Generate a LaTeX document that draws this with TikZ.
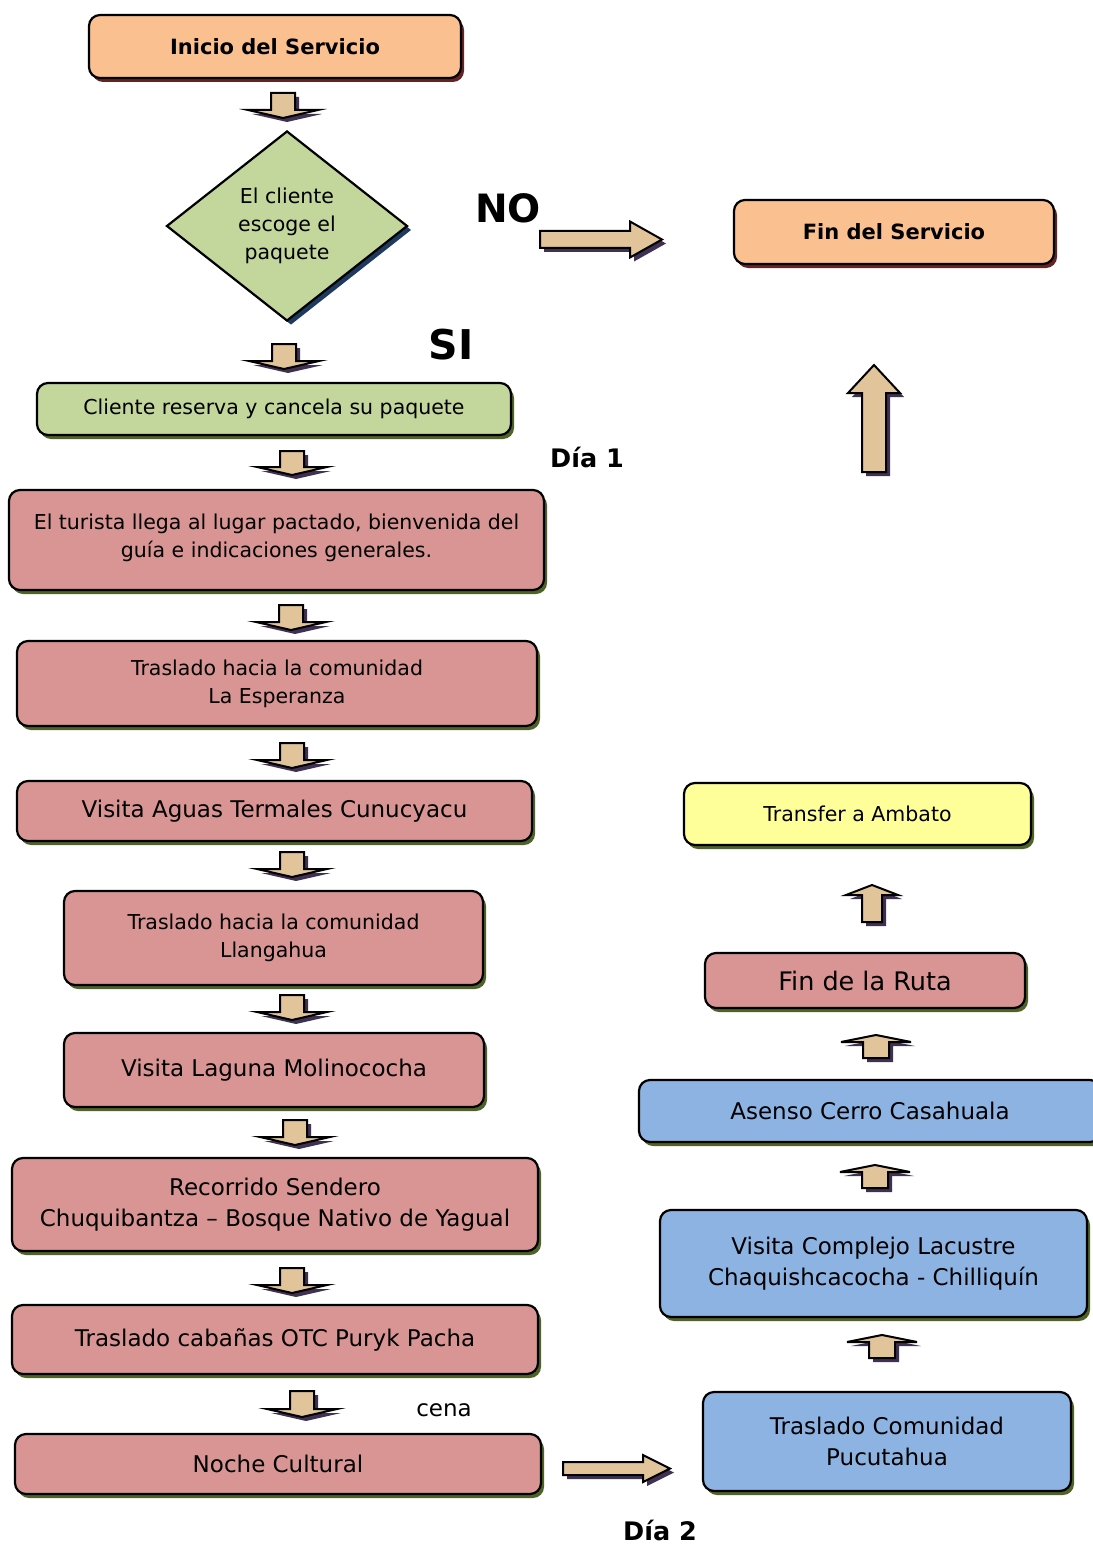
\documentclass[tikz,border=0pt]{standalone}
\usepackage{fontspec}
\setmainfont{DejaVu Sans}
\usetikzlibrary{shapes.geometric,shadows}

\definecolor{orangebox}{HTML}{FAC090}
\definecolor{greenbox}{HTML}{C3D69B}
\definecolor{pinkbox}{HTML}{D99594}
\definecolor{bluebox}{HTML}{8DB3E2}
\definecolor{yellowbox}{HTML}{FFFF99}
\definecolor{tanfill}{HTML}{E2C49A}
\definecolor{maroonshadow}{HTML}{632523}
\definecolor{oliveshadow}{HTML}{4F6228}
\definecolor{navyshadow}{HTML}{1F3A5F}
\definecolor{purpleshadow}{HTML}{3F3151}

\tikzset{
  smalltext/.style={font=\fontsize{20.5}{28}\selectfont},
  bigtext/.style={font=\fontsize{23}{31}\selectfont},
  box/.style={draw, line width=2.2pt, rounded corners=11pt, align=center, inner sep=0pt, smalltext},
  shadowmaroon/.style={drop shadow={shadow xshift=3pt, shadow yshift=-4pt, fill=maroonshadow, opacity=1}},
  shadowolive/.style={drop shadow={shadow xshift=3pt, shadow yshift=-4pt, fill=oliveshadow, opacity=1}},
  startbox/.style={box, fill=orangebox, shadowmaroon, font=\fontsize{21}{28}\selectfont\bfseries},
  greenstep/.style={box, fill=greenbox, shadowolive},
  pinkstep/.style={box, fill=pinkbox, shadowolive},
  bluestep/.style={box, fill=bluebox, shadowolive, bigtext},
  blkarrow/.style={draw, line width=2pt, fill=tanfill,
    drop shadow={shadow xshift=4pt, shadow yshift=-4pt, fill=purpleshadow, opacity=1}},
  % block arrows: #1 length, #2 half body, #3 head length, #4 half head
  pics/blkdown/.style n args={4}{code={
    \draw[blkarrow] (-#2,0) -- (#2,0) -- (#2,#1-#3) -- (#4,#1-#3) -- (0,#1)
      -- (-#4,#1-#3) -- (-#2,#1-#3) -- cycle;
  }},
  pics/blkup/.style n args={4}{code={
    \draw[blkarrow] (-#2,0) -- (#2,0) -- (#2,-#1+#3) -- (#4,-#1+#3) -- (0,-#1)
      -- (-#4,-#1+#3) -- (-#2,-#1+#3) -- cycle;
  }},
  pics/blkright/.style n args={4}{code={
    \draw[blkarrow] (0,-#2) -- (#1-#3,-#2) -- (#1-#3,-#4) -- (#1,0)
      -- (#1-#3,#4) -- (#1-#3,#2) -- (0,#2) -- cycle;
  }},
}

\begin{document}
\begin{tikzpicture}[x=1pt, y=-1pt]
  \useasboundingbox (0,0) rectangle (1092,1546);

  % first day, left column
  \node[startbox, minimum width=372pt, minimum height=63pt] (inicio) at (275,46.5) {Inicio del Servicio};
  \node[draw, diamond, line width=2.2pt, fill=greenbox, minimum width=241pt, minimum height=190pt,
        inner sep=0pt, align=center, smalltext,
        drop shadow={shadow xshift=4pt, shadow yshift=-4pt, fill=navyshadow, opacity=1}]
        (escoge) at (287,226) {El cliente\\escoge el\\paquete};
  \node[greenstep, minimum width=474pt, minimum height=52pt] (reserva) at (274,409) {Cliente reserva y cancela su paquete};
  \node[pinkstep, minimum width=535pt, minimum height=100pt] (llega) at (276.5,540)
        {El turista llega al lugar pactado, bienvenida del\\guía e indicaciones generales.\\[-20pt]};
  \node[pinkstep, minimum width=520pt, minimum height=85pt] (esperanza) at (277,683.5)
        {Traslado hacia la comunidad\\La Esperanza};
  \node[pinkstep, bigtext, minimum width=515pt, minimum height=60pt] (termales) at (274.5,811)
        {Visita Aguas Termales Cunucyacu};
  \node[pinkstep, minimum width=419pt, minimum height=94pt] (llangahua) at (273.5,938)
        {Traslado hacia la comunidad\\Llangahua};
  \node[pinkstep, bigtext, minimum width=420pt, minimum height=74pt] (laguna) at (274,1070)
        {Visita Laguna Molinococha};
  \node[pinkstep, bigtext, minimum width=526pt, minimum height=93pt] (sendero) at (275,1204.5)
        {Recorrido Sendero\\Chuquibantza -- Bosque Nativo de Yagual};
  \node[pinkstep, bigtext, minimum width=526pt, minimum height=69pt] (cabanas) at (275,1339.5)
        {Traslado cabañas OTC Puryk Pacha};
  \node[pinkstep, bigtext, minimum width=526pt, minimum height=60pt] (noche) at (278,1464)
        {Noche Cultural};

  % second day, right column
  \node[bluestep, minimum width=368pt, minimum height=99pt] (pucutahua) at (887,1441.5)
        {Traslado Comunidad\\Pucutahua};
  \node[bluestep, minimum width=427pt, minimum height=107pt] (lacustre) at (873.5,1263.5)
        {Visita Complejo Lacustre\\Chaquishcacocha - Chilliquín};
  \node[bluestep, minimum width=462pt, minimum height=62pt] (casahuala) at (870,1111)
        {Asenso Cerro Casahuala};
  \node[pinkstep, font=\fontsize{25.5}{30}\selectfont, minimum width=320pt, minimum height=55pt] (finruta) at (865,980.5)
        {Fin de la Ruta};
  \node[box, fill=yellowbox, shadowolive, minimum width=347pt, minimum height=62pt] (ambato) at (857.5,814)
        {Transfer a Ambato};
  \node[startbox, minimum width=320pt, minimum height=64pt] (fin) at (894,232) {Fin del Servicio};

  % labels
  \node[font=\fontsize{39}{40}\selectfont\bfseries] (no) at (508,208) {NO};
  \node[font=\fontsize{41}{40}\selectfont\bfseries] (si) at (451,345) {SI};
  \node[font=\fontsize{25.5}{24}\selectfont\bfseries] (dia1) at (587,457) {Día 1};
  \node[font=\fontsize{25.5}{24}\selectfont\bfseries, inner sep=0pt] (dia2) at (660,1530) {Día 2};
  \node[bigtext] (cena) at (444,1410) {cena};

  % down arrows
  \pic at (283,93)   {blkdown={25}{12}{8}{35}};
  \pic at (284,344)  {blkdown={25}{12}{8}{35}};
  \pic at (292,451)  {blkdown={24}{12}{8}{35}};
  \pic at (291,605)  {blkdown={25}{12}{8}{35}};
  \pic at (292,743)  {blkdown={25}{12}{8}{35}};
  \pic at (292,852)  {blkdown={25}{12}{8}{35}};
  \pic at (292,995)  {blkdown={25}{12}{8}{35}};
  \pic at (295,1120) {blkdown={25}{12}{8}{35}};
  \pic at (292,1268) {blkdown={25}{12}{8}{35}};
  \pic at (302,1391) {blkdown={26}{12}{8}{35}};

  % up arrows
  \pic at (882,1358) {blkup={23}{13}{7}{35}};
  \pic at (875,1188) {blkup={23}{13}{7}{35}};
  \pic at (876,1058) {blkup={23}{13}{7}{35}};
  \pic at (872,922)  {blkup={37}{10}{10}{26}};
  \pic at (874,472)  {blkup={107}{12}{28}{26}};

  % right arrows
  \pic at (540,239.5)  {blkright={122}{8.5}{32}{18}};
  \pic at (563,1468.5) {blkright={107}{6.5}{27}{13.5}};
\end{tikzpicture}
\end{document}
